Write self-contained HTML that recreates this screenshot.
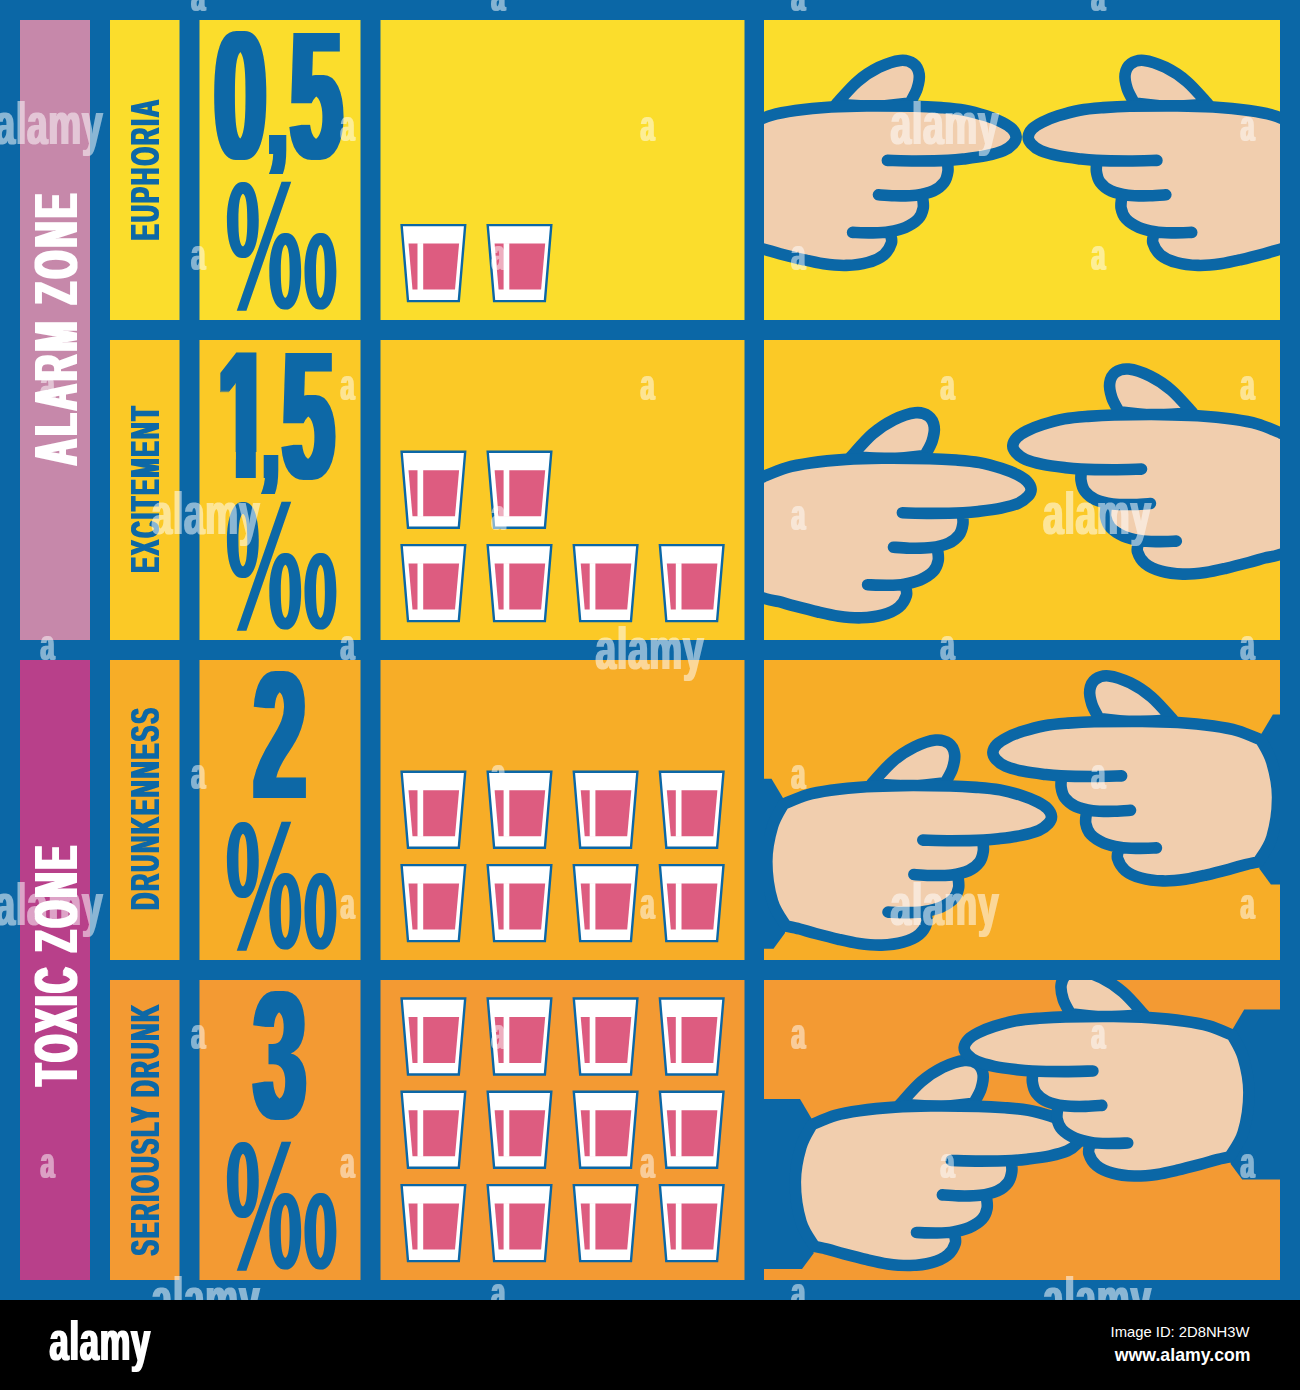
<!DOCTYPE html>
<html lang="en"><head><meta charset="utf-8"><title>Alcohol zones infographic</title>
<style>html,body{margin:0;padding:0;background:#000}svg{display:block}</style></head>
<body>
<svg width="1300" height="1390" viewBox="0 0 1300 1390">
<defs>
<filter id="dh4" x="-5%" y="-5%" width="110%" height="110%"><feMorphology operator="dilate" radius="4 0.1"/></filter>
<filter id="dh1" x="-5%" y="-5%" width="110%" height="110%"><feMorphology operator="dilate" radius="1 0.1"/></filter>
<filter id="dh2" x="-5%" y="-5%" width="110%" height="110%"><feMorphology operator="dilate" radius="2 0.1"/></filter>
<filter id="dv1" x="-5%" y="-5%" width="110%" height="110%"><feMorphology operator="dilate" radius="0.1 1"/></filter>
<filter id="dv2" x="-5%" y="-5%" width="110%" height="110%"><feMorphology operator="dilate" radius="0.1 2"/></filter>
<g id="hand"><path d="M-360 -37.8 L-280 -37.8 L-268.5 -18.5 L-266.5 116.5 L-278 132.2 L-360 132.2Z" fill="#0b67a6"/><path d="M-180.0 -32.6 C-176.4 -36.4 -165.8 -49.1 -158.7 -55.2 C-151.6 -61.4 -144.3 -66.0 -137.2 -69.5 C-130.0 -73.0 -121.6 -75.8 -115.8 -76.4 C-110.0 -77.0 -105.8 -75.4 -102.6 -73.1 C-99.4 -70.8 -97.5 -66.6 -96.9 -62.4 C-96.3 -58.2 -97.5 -52.8 -99.0 -48.0 C-100.5 -43.2 -105.0 -36.1 -106.2 -33.7 L-140 -30Z" fill="#f1ceae" stroke="#0b67a6" stroke-width="11.6" stroke-linecap="round" stroke-linejoin="round"/><path d="M-268.0 -12.4 C-264.1 -13.9 -252.5 -19.2 -244.6 -21.5 C-236.7 -23.8 -230.6 -24.8 -220.7 -26.2 C-210.8 -27.6 -196.8 -29.0 -184.9 -29.8 C-173.0 -30.6 -163.1 -30.8 -149.2 -30.9 C-135.3 -31.0 -114.2 -30.8 -101.5 -30.5 C-88.8 -30.2 -81.3 -29.6 -73.0 -29.0 C-64.7 -28.4 -58.7 -27.9 -51.5 -26.6 C-44.3 -25.3 -36.2 -23.0 -29.9 -21.0 C-23.6 -19.0 -18.1 -16.7 -13.8 -14.5 C-9.5 -12.3 -6.4 -10.4 -4.1 -8.0 C-1.8 -5.6 -0.2 -2.5 0.0 0.0 C0.2 2.5 -0.9 4.7 -3.0 7.0 C-5.1 9.3 -8.2 12.0 -12.7 14.0 C-17.2 16.0 -23.4 17.5 -29.9 18.9 C-36.4 20.2 -45.1 21.3 -51.5 22.1 C-57.9 22.9 -65.2 23.4 -68.0 23.6 L-68.7 25.0 C-68.6 26.6 -67.7 31.3 -68.2 34.7 C-68.7 38.1 -69.5 42.3 -71.9 45.5 C-74.3 48.7 -78.0 52.0 -82.7 54.1 C-87.4 56.2 -97.0 57.7 -99.9 58.4 L-93.5 60.6 C-93.4 62.4 -92.2 67.8 -92.9 71.4 C-93.6 75.0 -94.8 78.9 -97.8 82.1 C-100.8 85.3 -105.8 88.5 -110.7 90.7 C-115.6 92.9 -124.2 94.3 -126.9 95.0 L-125.8 97.0 C-125.6 98.5 -123.6 102.8 -124.7 106.3 C-125.8 109.8 -128.4 114.9 -132.3 118.1 C-136.2 121.3 -142.1 124.0 -148.4 125.7 C-154.7 127.5 -162.6 128.4 -169.9 128.6 C-177.2 128.8 -185.3 128.0 -192.5 127.0 C-199.7 126.0 -205.8 124.5 -213.0 122.8 C-220.2 121.1 -229.5 118.7 -236.0 117.0 C-242.5 115.3 -246.9 113.8 -251.8 112.5 C-256.7 111.2 -263.2 110.0 -265.5 109.5 C-267.8 105.4 -275.8 95.8 -279.0 85.0 C-282.2 74.2 -284.7 57.5 -284.7 45.0 C-284.7 32.5 -281.8 19.6 -279.0 10.0 C-276.2 0.4 -269.8 -8.7 -268.0 -12.4Z" fill="#f1ceae"/><path d="M-268.0 -12.4 C-264.1 -13.9 -252.5 -19.2 -244.6 -21.5 C-236.7 -23.8 -230.6 -24.8 -220.7 -26.2 C-210.8 -27.6 -196.8 -29.0 -184.9 -29.8 C-173.0 -30.6 -163.1 -30.8 -149.2 -30.9 C-135.3 -31.0 -114.2 -30.8 -101.5 -30.5 C-88.8 -30.2 -81.3 -29.6 -73.0 -29.0 C-64.7 -28.4 -58.7 -27.9 -51.5 -26.6 C-44.3 -25.3 -36.2 -23.0 -29.9 -21.0 C-23.6 -19.0 -18.1 -16.7 -13.8 -14.5 C-9.5 -12.3 -6.4 -10.4 -4.1 -8.0 C-1.8 -5.6 -0.2 -2.5 0.0 0.0 C0.2 2.5 -0.9 4.7 -3.0 7.0 C-5.1 9.3 -8.2 12.0 -12.7 14.0 C-17.2 16.0 -23.4 17.5 -29.9 18.9 C-36.4 20.2 -45.1 21.3 -51.5 22.1 C-57.9 22.9 -59.9 23.2 -68.0 23.6 C-76.1 24.0 -89.9 24.2 -100.0 24.2 C-110.1 24.2 -123.9 23.7 -128.7 23.6 M-68.7 25.0 C-68.6 26.6 -67.7 31.3 -68.2 34.7 C-68.7 38.1 -69.5 42.3 -71.9 45.5 C-74.3 48.7 -78.0 52.0 -82.7 54.1 C-87.4 56.2 -93.4 57.6 -99.9 58.4 C-106.4 59.2 -115.2 59.1 -121.5 59.0 C-127.8 58.9 -134.9 58.2 -137.6 58.0 M-93.5 60.6 C-93.4 62.4 -92.2 67.8 -92.9 71.4 C-93.6 75.0 -94.8 78.9 -97.8 82.1 C-100.8 85.3 -105.8 88.5 -110.7 90.7 C-115.6 92.9 -121.5 94.1 -126.9 95.0 C-132.3 95.9 -136.9 96.0 -143.0 96.1 C-149.1 96.2 -160.1 95.7 -163.5 95.6 M-125.8 97.0 C-125.6 98.5 -123.6 102.8 -124.7 106.3 C-125.8 109.8 -128.4 114.9 -132.3 118.1 C-136.2 121.3 -142.1 124.0 -148.4 125.7 C-154.7 127.5 -162.6 128.4 -169.9 128.6 C-177.2 128.8 -185.3 128.0 -192.5 127.0 C-199.7 126.0 -205.8 124.5 -213.0 122.8 C-220.2 121.1 -229.5 118.7 -236.0 117.0 C-242.5 115.3 -246.9 113.8 -251.8 112.5 C-256.7 111.2 -263.2 110.0 -265.5 109.5 M-265.5 109.5 C-267.8 105.4 -275.8 95.8 -279.0 85.0 C-282.2 74.2 -284.7 57.5 -284.7 45.0 C-284.7 32.5 -281.8 19.6 -279.0 10.0 C-276.2 0.4 -269.8 -8.7 -268.0 -12.4" fill="none" stroke="#0b67a6" stroke-width="11.6" stroke-linecap="round" stroke-linejoin="round"/></g><g id="handx"><path d="M-180.0 -32.6 C-176.4 -36.4 -165.8 -49.1 -158.7 -55.2 C-151.6 -61.4 -144.3 -66.0 -137.2 -69.5 C-130.0 -73.0 -121.6 -75.8 -115.8 -76.4 C-110.0 -77.0 -105.8 -75.4 -102.6 -73.1 C-99.4 -70.8 -97.5 -66.6 -96.9 -62.4 C-96.3 -58.2 -97.5 -52.8 -99.0 -48.0 C-100.5 -43.2 -105.0 -36.1 -106.2 -33.7 L-140 -30Z" fill="#f1ceae" stroke="#0b67a6" stroke-width="11.6" stroke-linecap="round" stroke-linejoin="round"/><path d="M-320.0 11.0 C-316.0 9.2 -304.7 4.4 -296.0 0.5 C-287.3 -3.4 -276.6 -8.7 -268.0 -12.4 C-259.4 -16.1 -252.5 -19.2 -244.6 -21.5 C-236.7 -23.8 -230.6 -24.8 -220.7 -26.2 C-210.8 -27.6 -196.8 -29.0 -184.9 -29.8 C-173.0 -30.6 -163.1 -30.8 -149.2 -30.9 C-135.3 -31.0 -114.2 -30.8 -101.5 -30.5 C-88.8 -30.2 -81.3 -29.6 -73.0 -29.0 C-64.7 -28.4 -58.7 -27.9 -51.5 -26.6 C-44.3 -25.3 -36.2 -23.0 -29.9 -21.0 C-23.6 -19.0 -18.1 -16.7 -13.8 -14.5 C-9.5 -12.3 -6.4 -10.4 -4.1 -8.0 C-1.8 -5.6 -0.2 -2.5 0.0 0.0 C0.2 2.5 -0.9 4.7 -3.0 7.0 C-5.1 9.3 -8.2 12.0 -12.7 14.0 C-17.2 16.0 -23.4 17.5 -29.9 18.9 C-36.4 20.2 -45.1 21.3 -51.5 22.1 C-57.9 22.9 -65.2 23.4 -68.0 23.6 L-68.7 25.0 C-68.6 26.6 -67.7 31.3 -68.2 34.7 C-68.7 38.1 -69.5 42.3 -71.9 45.5 C-74.3 48.7 -78.0 52.0 -82.7 54.1 C-87.4 56.2 -97.0 57.7 -99.9 58.4 L-93.5 60.6 C-93.4 62.4 -92.2 67.8 -92.9 71.4 C-93.6 75.0 -94.8 78.9 -97.8 82.1 C-100.8 85.3 -105.8 88.5 -110.7 90.7 C-115.6 92.9 -124.2 94.3 -126.9 95.0 L-125.8 97.0 C-125.6 98.5 -123.6 102.8 -124.7 106.3 C-125.8 109.8 -128.4 114.9 -132.3 118.1 C-136.2 121.3 -142.1 124.0 -148.4 125.7 C-154.7 127.5 -162.6 128.4 -169.9 128.6 C-177.2 128.8 -185.3 128.0 -192.5 127.0 C-199.7 126.0 -205.8 124.5 -213.0 122.8 C-220.2 121.1 -229.5 118.7 -236.0 117.0 C-242.5 115.3 -246.9 113.8 -251.8 112.5 C-256.7 111.2 -258.1 111.7 -265.5 109.5 C-272.9 107.3 -286.9 102.4 -296.0 99.5 C-305.1 96.6 -316.0 93.2 -320.0 92.0Z" fill="#f1ceae"/><path d="M-320.0 11.0 C-316.0 9.2 -304.7 4.4 -296.0 0.5 C-287.3 -3.4 -276.6 -8.7 -268.0 -12.4 C-259.4 -16.1 -252.5 -19.2 -244.6 -21.5 C-236.7 -23.8 -230.6 -24.8 -220.7 -26.2 C-210.8 -27.6 -196.8 -29.0 -184.9 -29.8 C-173.0 -30.6 -163.1 -30.8 -149.2 -30.9 C-135.3 -31.0 -114.2 -30.8 -101.5 -30.5 C-88.8 -30.2 -81.3 -29.6 -73.0 -29.0 C-64.7 -28.4 -58.7 -27.9 -51.5 -26.6 C-44.3 -25.3 -36.2 -23.0 -29.9 -21.0 C-23.6 -19.0 -18.1 -16.7 -13.8 -14.5 C-9.5 -12.3 -6.4 -10.4 -4.1 -8.0 C-1.8 -5.6 -0.2 -2.5 0.0 0.0 C0.2 2.5 -0.9 4.7 -3.0 7.0 C-5.1 9.3 -8.2 12.0 -12.7 14.0 C-17.2 16.0 -23.4 17.5 -29.9 18.9 C-36.4 20.2 -45.1 21.3 -51.5 22.1 C-57.9 22.9 -59.9 23.2 -68.0 23.6 C-76.1 24.0 -89.9 24.2 -100.0 24.2 C-110.1 24.2 -123.9 23.7 -128.7 23.6 M-68.7 25.0 C-68.6 26.6 -67.7 31.3 -68.2 34.7 C-68.7 38.1 -69.5 42.3 -71.9 45.5 C-74.3 48.7 -78.0 52.0 -82.7 54.1 C-87.4 56.2 -93.4 57.6 -99.9 58.4 C-106.4 59.2 -115.2 59.1 -121.5 59.0 C-127.8 58.9 -134.9 58.2 -137.6 58.0 M-93.5 60.6 C-93.4 62.4 -92.2 67.8 -92.9 71.4 C-93.6 75.0 -94.8 78.9 -97.8 82.1 C-100.8 85.3 -105.8 88.5 -110.7 90.7 C-115.6 92.9 -121.5 94.1 -126.9 95.0 C-132.3 95.9 -136.9 96.0 -143.0 96.1 C-149.1 96.2 -160.1 95.7 -163.5 95.6 M-125.8 97.0 C-125.6 98.5 -123.6 102.8 -124.7 106.3 C-125.8 109.8 -128.4 114.9 -132.3 118.1 C-136.2 121.3 -142.1 124.0 -148.4 125.7 C-154.7 127.5 -162.6 128.4 -169.9 128.6 C-177.2 128.8 -185.3 128.0 -192.5 127.0 C-199.7 126.0 -205.8 124.5 -213.0 122.8 C-220.2 121.1 -229.5 118.7 -236.0 117.0 C-242.5 115.3 -246.9 113.8 -251.8 112.5 C-256.7 111.2 -258.1 111.7 -265.5 109.5 C-272.9 107.3 -286.9 102.4 -296.0 99.5 C-305.1 96.6 -316.0 93.2 -320.0 92.0" fill="none" stroke="#0b67a6" stroke-width="11.6" stroke-linecap="round" stroke-linejoin="round"/></g>
<g id="glass"><path d="M1 1 L64.6 1 L58.2 77 L7.4 77Z" fill="#fff" stroke="#0b67a6" stroke-width="2.4"/>
<path d="M7.9 19.5 L58.5 19.5 L54.4 65.5 L11.9 65.5Z" fill="#dd5c80"/><rect x="16.9" y="19" width="5.7" height="47" fill="#fff"/></g>
<clipPath id="hc0"><rect x="764" y="20" width="516" height="300"/></clipPath>
<clipPath id="hc1"><rect x="764" y="340" width="516" height="300"/></clipPath>
<clipPath id="hc2"><rect x="764" y="660" width="516" height="300"/></clipPath>
<clipPath id="hc3"><rect x="764" y="980" width="516" height="300"/></clipPath>
<clipPath id="art"><rect width="1300" height="1300"/></clipPath>
</defs>
<rect width="1300" height="1300" fill="#0b67a6"/>
<rect y="1300" width="1300" height="90" fill="#000"/>
<rect x="20" y="20" width="70" height="620" fill="#c688aa"/>
<rect x="20" y="660" width="70" height="620" fill="#b8408a"/>
<rect x="110" y="20" width="69.5" height="300" fill="#fbdd2c"/>
<rect x="199.5" y="20" width="161" height="300" fill="#fbdd2c"/>
<rect x="380.5" y="20" width="364" height="300" fill="#fbdd2c"/>
<rect x="764" y="20" width="516" height="300" fill="#fbdd2c"/>
<rect x="110" y="340" width="69.5" height="300" fill="#fbc926"/>
<rect x="199.5" y="340" width="161" height="300" fill="#fbc926"/>
<rect x="380.5" y="340" width="364" height="300" fill="#fbc926"/>
<rect x="764" y="340" width="516" height="300" fill="#fbc926"/>
<rect x="110" y="660" width="69.5" height="300" fill="#f7ad27"/>
<rect x="199.5" y="660" width="161" height="300" fill="#f7ad27"/>
<rect x="380.5" y="660" width="364" height="300" fill="#f7ad27"/>
<rect x="764" y="660" width="516" height="300" fill="#f7ad27"/>
<rect x="110" y="980" width="69.5" height="300" fill="#f39a33"/>
<rect x="199.5" y="980" width="161" height="300" fill="#f39a33"/>
<rect x="380.5" y="980" width="364" height="300" fill="#f39a33"/>
<rect x="764" y="980" width="516" height="300" fill="#f39a33"/>
<use href="#glass" x="400.6" y="224.1"/>
<use href="#glass" x="486.7" y="224.1"/>
<use href="#glass" x="400.6" y="450.8"/>
<use href="#glass" x="486.7" y="450.8"/>
<use href="#glass" x="400.6" y="544.1"/>
<use href="#glass" x="486.7" y="544.1"/>
<use href="#glass" x="572.8" y="544.1"/>
<use href="#glass" x="658.9" y="544.1"/>
<use href="#glass" x="400.6" y="770.8"/>
<use href="#glass" x="486.7" y="770.8"/>
<use href="#glass" x="572.8" y="770.8"/>
<use href="#glass" x="658.9" y="770.8"/>
<use href="#glass" x="400.6" y="864.1"/>
<use href="#glass" x="486.7" y="864.1"/>
<use href="#glass" x="572.8" y="864.1"/>
<use href="#glass" x="658.9" y="864.1"/>
<use href="#glass" x="400.6" y="997.5"/>
<use href="#glass" x="486.7" y="997.5"/>
<use href="#glass" x="572.8" y="997.5"/>
<use href="#glass" x="658.9" y="997.5"/>
<use href="#glass" x="400.6" y="1090.8"/>
<use href="#glass" x="486.7" y="1090.8"/>
<use href="#glass" x="572.8" y="1090.8"/>
<use href="#glass" x="658.9" y="1090.8"/>
<use href="#glass" x="400.6" y="1184.1"/>
<use href="#glass" x="486.7" y="1184.1"/>
<use href="#glass" x="572.8" y="1184.1"/>
<use href="#glass" x="658.9" y="1184.1"/>
<g clip-path="url(#hc0)">
<use href="#handx" transform="translate(1016.1 136.8)"/>
<use href="#handx" transform="translate(1028.2 136.8) scale(-1 1)"/>
</g>
<g clip-path="url(#hc1)">
<use href="#handx" transform="translate(1031.1 489.2)"/>
<use href="#handx" transform="translate(1012.8 445.5) scale(-1 1)"/>
</g>
<g clip-path="url(#hc2)">
<use href="#hand" transform="translate(1051.5 816.5)"/>
<use href="#hand" transform="translate(992.9 752.3) scale(-1 1)"/>
</g>
<g clip-path="url(#hc3)">
<use href="#hand" transform="translate(1080.0 1136.9)"/>
<use href="#hand" transform="translate(964.2 1047.4) scale(-1 1)"/>
</g>
<clipPath id="c15"><path clip-rule="evenodd" d="M199 340H361V640H199Z M199 452H235.8V482H199Z M255.8 452H263.7V482H255.8Z"/></clipPath>
<g><g filter="url(#dh4)"><text font-family="Liberation Sans, Arial, sans-serif" font-weight="bold" font-size="182" fill="#0b67a6" transform="translate(216.0 158.0) scale(0.51 1)"><tspan x="-2.9">0</tspan><tspan x="103.1" font-size="128" dy="-4.5">,</tspan><tspan x="146.1" dy="4.5">5</tspan></text></g></g>
<g filter="url(#dh1)"><text font-family="Noto Sans CJK JP, Noto Sans CJK SC, Liberation Sans, sans-serif" font-weight="bold" font-size="167.6" fill="#0b67a6" transform="translate(224.4 308) scale(0.682 1)">‰</text></g>
<g clip-path="url(#c15)"><g filter="url(#dh4)"><text font-family="Liberation Sans, Arial, sans-serif" font-weight="bold" font-size="182" fill="#0b67a6" transform="translate(216.0 478.0) scale(0.51 1)"><tspan x="3.9">1</tspan><tspan x="87.3" font-size="128" dy="-4.5">,</tspan><tspan x="130.4" dy="4.5">5</tspan></text></g></g>
<g filter="url(#dh1)"><text font-family="Noto Sans CJK JP, Noto Sans CJK SC, Liberation Sans, sans-serif" font-weight="bold" font-size="167.6" fill="#0b67a6" transform="translate(224.4 628) scale(0.682 1)">‰</text></g>
<g><g filter="url(#dh4)"><text font-family="Liberation Sans, Arial, sans-serif" font-weight="bold" font-size="182" fill="#0b67a6" transform="translate(216.0 798.0) scale(0.51 1)"><tspan x="74.5">2</tspan></text></g></g>
<g filter="url(#dh1)"><text font-family="Noto Sans CJK JP, Noto Sans CJK SC, Liberation Sans, sans-serif" font-weight="bold" font-size="167.6" fill="#0b67a6" transform="translate(224.4 948) scale(0.682 1)">‰</text></g>
<g><g filter="url(#dh4)"><text font-family="Liberation Sans, Arial, sans-serif" font-weight="bold" font-size="182" fill="#0b67a6" transform="translate(216.0 1118.0) scale(0.51 1)"><tspan x="74.5">3</tspan></text></g></g>
<g filter="url(#dh1)"><text font-family="Noto Sans CJK JP, Noto Sans CJK SC, Liberation Sans, sans-serif" font-weight="bold" font-size="167.6" fill="#0b67a6" transform="translate(224.4 1268) scale(0.682 1)">‰</text></g>
<g filter="url(#dv1)"><text font-family="Liberation Sans, Arial, sans-serif" font-weight="bold" font-size="41" fill="#0b67a6" transform="translate(159.2 240.2) rotate(-90) scale(0.58 1)" letter-spacing="3.7">EUPHORIA</text></g>
<g filter="url(#dv1)"><text font-family="Liberation Sans, Arial, sans-serif" font-weight="bold" font-size="41" fill="#0b67a6" transform="translate(159.2 572.5) rotate(-90) scale(0.558 1)" letter-spacing="3.7">EXCITEMENT</text></g>
<g filter="url(#dv1)"><text font-family="Liberation Sans, Arial, sans-serif" font-weight="bold" font-size="41" fill="#0b67a6" transform="translate(159.2 909.8) rotate(-90) scale(0.57 1)" letter-spacing="3.7">DRUNKENNESS</text></g>
<g filter="url(#dv1)"><text font-family="Liberation Sans, Arial, sans-serif" font-weight="bold" font-size="41" fill="#0b67a6" transform="translate(159.2 1255.5) rotate(-90) scale(0.565 1)" letter-spacing="3.7">SERIOUSLY DRUNK</text></g>
<g filter="url(#dv2)"><text font-family="Liberation Sans, Arial, sans-serif" font-weight="bold" font-size="60.7" fill="#fff" transform="translate(76.9 464.7) rotate(-90) scale(0.575 1)" letter-spacing="7.3">ALARM ZONE</text></g>
<g filter="url(#dv2)"><text font-family="Liberation Sans, Arial, sans-serif" font-weight="bold" font-size="60.7" fill="#fff" transform="translate(76.9 1085.3) rotate(-90) scale(0.56 1)" letter-spacing="6.3">TOXIC ZONE</text></g>
<g clip-path="url(#art)">
<g filter="url(#dh1)" opacity="0.52"><text font-family="Liberation Sans, Arial, sans-serif" font-weight="bold" font-size="60" fill="#fff" letter-spacing="1.3" transform="translate(-5.5 143.5) scale(0.617 1)">alamy</text></g>
<g filter="url(#dh1)" opacity="0.52"><text font-family="Liberation Sans, Arial, sans-serif" font-weight="bold" font-size="60" fill="#fff" letter-spacing="1.3" transform="translate(890.5 143.5) scale(0.617 1)">alamy</text></g>
<g filter="url(#dh1)" opacity="0.52"><text font-family="Liberation Sans, Arial, sans-serif" font-weight="bold" font-size="60" fill="#fff" letter-spacing="1.3" transform="translate(151.5 534.0) scale(0.617 1)">alamy</text></g>
<g filter="url(#dh1)" opacity="0.52"><text font-family="Liberation Sans, Arial, sans-serif" font-weight="bold" font-size="60" fill="#fff" letter-spacing="1.3" transform="translate(1043.0 534.0) scale(0.617 1)">alamy</text></g>
<g filter="url(#dh1)" opacity="0.52"><text font-family="Liberation Sans, Arial, sans-serif" font-weight="bold" font-size="60" fill="#fff" letter-spacing="1.3" transform="translate(-5.5 924.5) scale(0.617 1)">alamy</text></g>
<g filter="url(#dh1)" opacity="0.52"><text font-family="Liberation Sans, Arial, sans-serif" font-weight="bold" font-size="60" fill="#fff" letter-spacing="1.3" transform="translate(890.5 924.5) scale(0.617 1)">alamy</text></g>
<g filter="url(#dh1)" opacity="0.52"><text font-family="Liberation Sans, Arial, sans-serif" font-weight="bold" font-size="60" fill="#fff" letter-spacing="1.3" transform="translate(151.5 1319.0) scale(0.617 1)">alamy</text></g>
<g filter="url(#dh1)" opacity="0.52"><text font-family="Liberation Sans, Arial, sans-serif" font-weight="bold" font-size="60" fill="#fff" letter-spacing="1.3" transform="translate(1043.0 1319.0) scale(0.617 1)">alamy</text></g>
<g filter="url(#dh1)" opacity="0.52"><text font-family="Liberation Sans, Arial, sans-serif" font-weight="bold" font-size="60" fill="#fff" letter-spacing="1.3" transform="translate(595.5 668.5) scale(0.617 1)">alamy</text></g>
<g filter="url(#dh1)" opacity="0.5"><g font-family="Liberation Sans, Arial, sans-serif" font-weight="bold" font-size="45" fill="#fff" transform="scale(0.56 1)"><text x="341.6" y="11.1">a</text><text x="877.3" y="11.1">a</text><text x="1413.0" y="11.1">a</text><text x="1948.7" y="11.1">a</text><text x="608.0" y="140.8">a</text><text x="1143.8" y="140.8">a</text><text x="2215.2" y="140.8">a</text><text x="341.6" y="270.5">a</text><text x="877.3" y="270.5">a</text><text x="1413.0" y="270.5">a</text><text x="1948.7" y="270.5">a</text><text x="72.3" y="400.2">a</text><text x="608.0" y="400.2">a</text><text x="1143.8" y="400.2">a</text><text x="1679.5" y="400.2">a</text><text x="2215.2" y="400.2">a</text><text x="877.3" y="529.9">a</text><text x="1413.0" y="529.9">a</text><text x="72.3" y="659.6">a</text><text x="608.0" y="659.6">a</text><text x="1679.5" y="659.6">a</text><text x="2215.2" y="659.6">a</text><text x="341.6" y="789.3">a</text><text x="877.3" y="789.3">a</text><text x="1413.0" y="789.3">a</text><text x="1948.7" y="789.3">a</text><text x="608.0" y="919.0">a</text><text x="1143.8" y="919.0">a</text><text x="2215.2" y="919.0">a</text><text x="341.6" y="1048.7">a</text><text x="877.3" y="1048.7">a</text><text x="1413.0" y="1048.7">a</text><text x="1948.7" y="1048.7">a</text><text x="72.3" y="1178.4">a</text><text x="608.0" y="1178.4">a</text><text x="1143.8" y="1178.4">a</text><text x="1679.5" y="1178.4">a</text><text x="2215.2" y="1178.4">a</text><text x="877.3" y="1308.1">a</text><text x="1413.0" y="1308.1">a</text></g></g>
</g>
<g filter="url(#dh1)"><text font-family="Liberation Sans, Arial, sans-serif" font-weight="bold" font-size="55" fill="#fff" letter-spacing="1.3" transform="translate(49.5 1360.0) scale(0.625 1)">alamy</text></g>
<text font-family="Liberation Sans, Arial, sans-serif" font-size="14.8" fill="#fff" x="1249.5" y="1337" text-anchor="end">Image ID: 2D8NH3W</text>
<text font-family="Liberation Sans, Arial, sans-serif" font-weight="bold" font-size="17.7" fill="#fff" x="1250.5" y="1360.5" text-anchor="end">www.alamy.com</text>
</svg>
</body></html>
